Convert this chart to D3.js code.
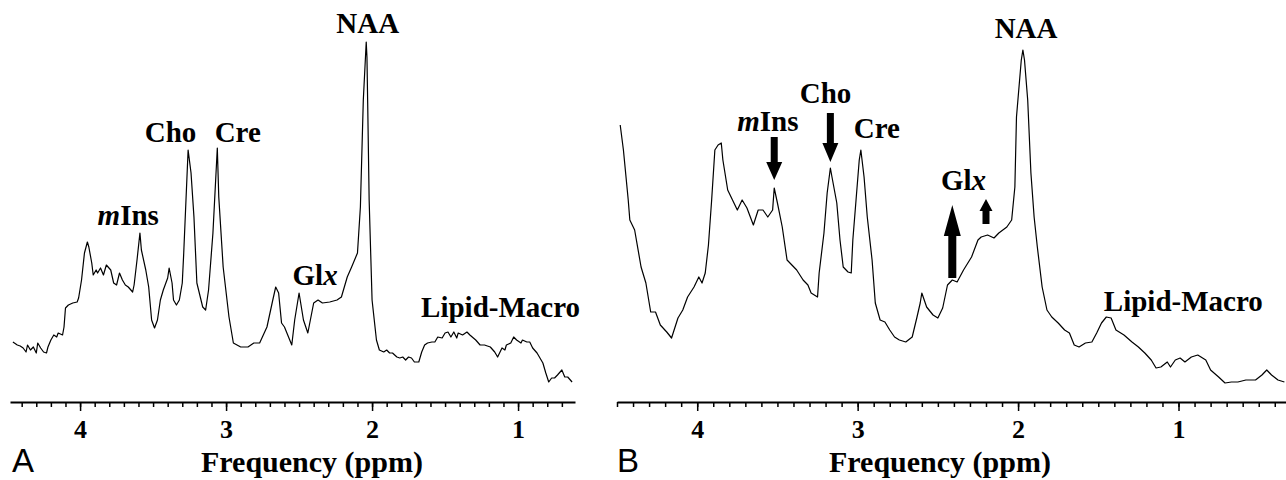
<!DOCTYPE html>
<html>
<head>
<meta charset="utf-8">
<script src="https://cdn.jsdelivr.net/npm/d3@7"></script>
<style>
	body { margin: 0; background: #fff; }
	.serif { font-family: 'Liberation Serif', 'Times New Roman', serif; font-weight: bold; }
	.sans { font-family: 'Liberation Sans', Arial, sans-serif; }
</style>
</head>
<body>
<svg id="spectra"></svg>
<script>
// spectrum A (normal)
var ppmA = [4.46,4.43,4.41,4.39,4.37,4.36,4.34,4.32,4.30,4.29,
	4.27,4.25,4.23,4.22,4.20,4.18,4.16,4.15,4.12,4.11,
	4.10,4.08,4.05,4.02,4.01,3.99,3.97,3.95,3.94,3.92,
	3.91,3.89,3.88,3.86,3.84,3.82,3.79,3.77,3.75,3.73,
	3.71,3.69,3.67,3.64,3.63,3.61,3.59,3.58,3.55,3.53,
	3.51,3.49,3.47,3.45,3.43,3.40,3.39,3.37,3.36,3.34,
	3.32,3.30,3.29,
	3.26,3.24,3.22,3.20,3.16,3.14,3.12,3.09,3.06,
	3.05,3.02,2.98,2.95,2.90,2.85,2.81,2.77,2.72,2.68,
	2.66,2.64,2.62,2.60,2.55,2.53,2.50,2.47,2.44,2.40,
	2.37,2.34,2.29,2.24,2.21,2.17,2.14,2.10,2.08,2.06,
	2.04,2.035,2.03,2.02,2.00,
	1.97,1.95,1.92,1.90,1.88,1.86,1.83,1.81,1.79,1.77,
	1.75,1.73,1.71,1.68,1.66,1.64,1.62,1.59,1.57,1.55,
	1.52,1.50,1.48,1.46,1.44,1.42,1.41,1.38,1.36,1.35,
	1.33,1.29,1.26,1.23,1.19,1.16,1.14,1.11,1.09,1.08,
	1.05,1.03,1.01,0.98,0.97,0.94,0.92,0.90,0.87,0.85,
	0.83,0.81,0.79,0.77,0.75,0.73,0.70,0.68,0.66,0.63];
var intensityA = [58,55,54,52,48,55,50,53,47,57,
	52,48,47,53,60,65,63,67,65,73,
	92,95,97,98,102,120,147,158,153,137,
	125,130,127,132,125,135,130,117,115,127,
	120,115,113,108,115,140,167,150,130,113,
	80,72,80,100,110,122,132,117,100,95,
	100,117,147,
	250,227,183,117,93,90,110,167,252,
	203,133,83,57,53,53,57,57,73,100,
	113,107,77,73,55,80,107,80,67,97,
	100,97,98,100,103,123,133,147,193,300,
	358,343,297,200,100,
	60,50,48,50,47,47,43,42,43,40,
	43,42,38,38,48,55,57,58,58,63,
	62,67,68,63,68,62,67,65,67,68,
	65,60,55,55,53,48,43,52,50,55,
	57,63,60,57,60,58,58,52,47,42,
	37,27,18,22,22,25,30,23,23,18];

// spectrum B
var ppmB = [4.48,4.46,4.43,4.42,4.39,4.35,4.32,4.29,4.26,4.23,
	4.19,4.16,4.12,4.09,4.06,4.02,3.99,3.97,3.95,3.93,
	3.91,3.89,3.87,3.85,3.84,3.81,3.78,3.75,3.72,3.69,
	3.65,3.62,3.59,3.56,3.53,3.52,3.50,3.47,3.44,3.41,
	3.38,3.34,3.31,3.29,3.25,3.24,3.21,3.19,3.17,3.16,
	3.13,3.11,3.09,3.06,3.04,3.03,3.01,2.99,2.98,2.96,
	2.94,2.91,2.89,2.86,2.83,2.80,2.77,2.74,2.70,2.66,
	2.63,2.61,2.60,2.57,2.53,2.50,2.47,2.44,2.41,2.38,
	2.34,2.29,2.25,2.23,2.19,2.15,2.12,2.07,2.04,2.02,
	2.01,1.98,1.97,1.96,1.94,1.92,1.90,1.88,1.85,1.82,
	1.79,1.75,1.71,1.68,1.65,1.62,1.58,1.54,1.51,1.48,
	1.45,1.42,1.39,1.34,1.29,1.25,1.21,1.17,1.14,1.11,
	1.07,1.05,1.02,0.99,0.96,0.92,0.88,0.83,0.80,0.75,
	0.71,0.67,0.63,0.58,0.52,0.48,0.45,0.42,0.38,0.34];
var intensityB = [275,250,200,180,170,133,117,88,88,75,
	68,62,82,90,103,113,123,117,127,155,
	200,250,255,257,240,210,200,190,200,192,
	175,190,190,183,190,212,197,173,140,135,
	130,120,115,107,103,127,167,207,232,223,
	197,160,133,128,127,160,200,240,250,223,
	183,140,97,80,78,70,63,60,58,63,
	83,97,107,93,85,82,92,115,120,118,
	130,143,160,163,165,162,167,173,180,213,
	283,340,350,340,300,227,183,153,113,90,
	83,77,70,67,55,53,57,58,67,77,
	83,82,70,65,58,53,47,40,32,33,
	38,33,40,42,38,43,45,40,30,23,
	17,18,18,20,20,25,30,25,20,18];

var tickLabels = [4, 3, 2, 1];

// peak labels: name, ppm, intensity of the text baseline
var labelNames = ['mIns', 'Cho', 'Cre', 'Glx', 'NAA', 'Lipid-Macro'];
var labelPpmA = [3.67, 3.38, 2.92, 2.39, 2.03, 1.12];
var labelIntA = [175, 258, 258, 115, 367, 83];
var labelPpmB = [3.56, 3.20, 2.88, 2.34, 1.95, 0.97];
var labelIntB = [269, 297, 262, 210, 362, 89];

// arrows in B: ppm, tail intensity, tip intensity
var arrowPpm = [3.52, 3.17, 2.41, 2.20];
var arrowTail = [263, 287, 122, 176];
var arrowTip = [220, 238, 195, 201];

var panelLetters = ['A', 'B'];
var axisTitle = 'Frequency (ppm)';

var width = 1286,
    height = 480,
    axisY = 402;

// arrow shapes (shaft width, head width, head length)
var arrowShapes = [[7, 16, 18], [7, 16, 19], [8, 17, 31], [7, 13, 12]];

var svg = d3.select('#spectra')
	.attr('width', width)
	.attr('height', height)
	.style('background-color', '#fff');

var y = d3.scaleLinear()
	.domain([0, 400])
	.range([400, 0]);

var panels = [
	{ppm: ppmA, intensity: intensityA, domain: [4.48, 0.61], range: [10, 575],
		labelPpm: labelPpmA, labelInt: labelIntA, letterX: 12, titleX: 312},
	{ppm: ppmB, intensity: intensityB, domain: [4.5, 0.33], range: [617, 1286],
		labelPpm: labelPpmB, labelInt: labelIntB, letterX: 617, titleX: 940}
];

var writeLabel = function(sel, name) {
	if(name === 'mIns') {
		sel.append('tspan').attr('font-style', 'italic').text('m');
		sel.append('tspan').text('Ins');
	} else if(name === 'Glx') {
		sel.append('tspan').text('Gl');
		sel.append('tspan').attr('font-style', 'italic').text('x');
	} else {
		sel.text(name);
	}
}

var drawPanel = function(p, i) {
	var x = d3.scaleLinear()
		.domain(p.domain)
		.range(p.range);

	var g = svg.append('g');

	var points = p.ppm.map((d, j) => [d, p.intensity[j]]);

	var line = d3.line()
		.x(d => x(d[0]))
		.y(d => y(d[1]));

	g.append('path')
		.datum(points)
		.attr('d', line)
		.attr('fill', 'none')
		.attr('stroke', '#000')
		.attr('stroke-width', 1.2)
		.attr('stroke-linejoin', 'round');

	// minor ticks every 0.1 ppm
	var minor = d3.range(Math.ceil(p.domain[1] * 10), Math.floor(p.domain[0] * 10) + 1)
		.map(d => d / 10);

	g.append('g')
		.attr('transform', `translate(0,${axisY})`)
		.call(d3.axisBottom(x).tickValues(minor).tickSize(5).tickSizeOuter(0).tickFormat(''))
		.call(a => a.selectAll('line').attr('stroke-width', 1.5))
		.call(a => a.select('.domain').attr('stroke-width', 1.8));

	g.append('g')
		.attr('transform', `translate(0,${axisY})`)
		.call(d3.axisBottom(x).tickValues(tickLabels).tickSize(9).tickFormat(d3.format('d')))
		.call(a => a.select('.domain').remove())
		.call(a => a.selectAll('line').attr('stroke-width', 1.5))
		.call(a => a.selectAll('text')
			.attr('class', 'serif')
			.attr('y', 36)
			.attr('dy', 0)
			.attr('font-size', 26)
			.attr('fill', '#000'));

	g.selectAll('.peak-label')
		.data(labelNames)
		.enter()
		.append('text')
		.attr('class', 'serif peak-label')
		.attr('x', (d, j) => x(p.labelPpm[j]))
		.attr('y', (d, j) => y(p.labelInt[j]))
		.attr('text-anchor', 'middle')
		.attr('font-size', 29)
		.each(function(d) { writeLabel(d3.select(this), d); });

	g.append('text')
		.attr('class', 'serif')
		.attr('x', p.titleX)
		.attr('y', 472)
		.attr('text-anchor', 'middle')
		.attr('font-size', 30)
		.text(axisTitle);

	g.append('text')
		.attr('class', 'sans')
		.attr('x', p.letterX)
		.attr('y', 472)
		.attr('font-size', 33)
		.text(panelLetters[i]);

	if(i === 1) {
		g.selectAll('.arrow')
			.data(arrowPpm)
			.enter()
			.append('path')
			.attr('class', 'arrow')
			.attr('fill', '#000')
			.attr('d', (d, j) => {
				var ax = x(d);
				var y0 = y(arrowTail[j]);
				var y1 = y(arrowTip[j]);
				var s = arrowShapes[j];
				var dir = y1 > y0 ? 1 : -1;
				var yh = y1 - dir * s[2];

				return `M${ax - s[0]/2},${y0} L${ax - s[0]/2},${yh} L${ax - s[1]/2},${yh} L${ax},${y1} ` +
					`L${ax + s[1]/2},${yh} L${ax + s[0]/2},${yh} L${ax + s[0]/2},${y0} Z`;
			});
	}
}

panels.forEach(drawPanel);
</script>
</body>
</html>
